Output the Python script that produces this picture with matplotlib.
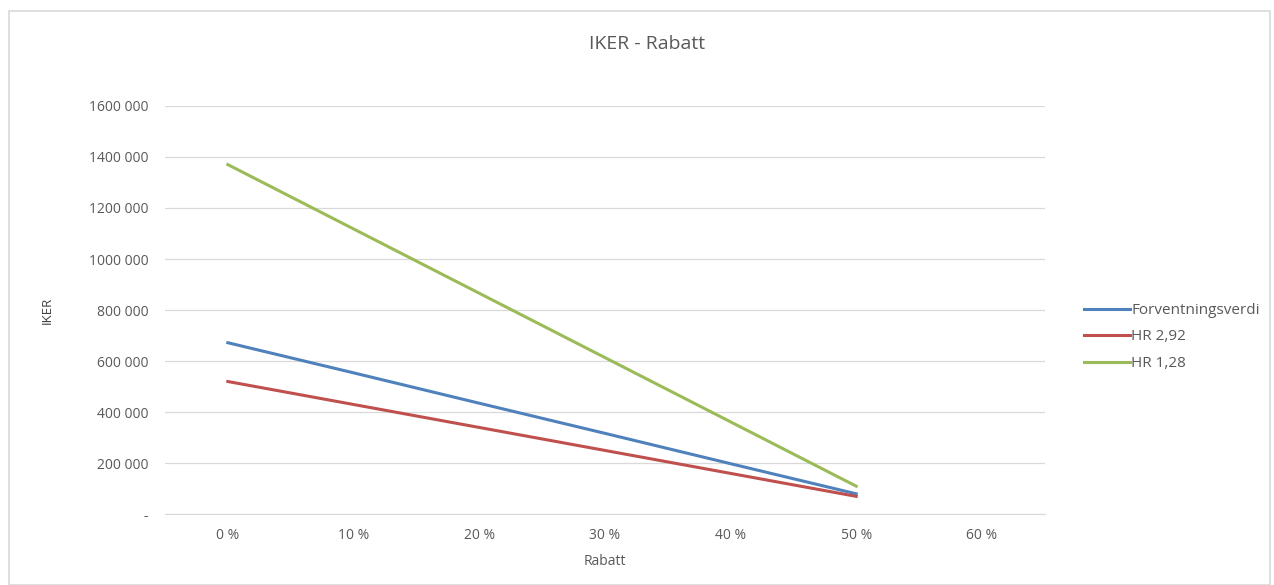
import numpy as np
import matplotlib.pyplot as plt
from matplotlib.patches import Rectangle

# rabatt-kategorier og IKER per serie
rabatt = ['0 %', '10 %', '20 %', '30 %', '40 %', '50 %', '60 %']
forventningsverdi = [672000, 554000, 435000, 317000, 198000, 80000]
hr_292 = [520000, 430000, 340000, 250000, 160000, 70000]
hr_128 = [1370000, 1118000, 866000, 614000, 362000, 110000]
yticks = [0, 200000, 400000, 600000, 800000, 1000000, 1200000, 1400000, 1600000]

plt.rcParams['font.family'] = ['Open Sans', 'DejaVu Sans']
grey = '#595959'

fig = plt.figure(figsize=(12.74, 5.85), dpi=100)
ax = fig.add_axes([0.1295, 0.121, 0.6905, 0.698])

x = np.arange(len(forventningsverdi))
ax.plot(x, forventningsverdi, color='#4F81BD', linewidth=2.2, label='Forventningsverdi')
ax.plot(x, hr_292, color='#C0504D', linewidth=2.2, label='HR 2,92')
ax.plot(x, hr_128, color='#9BBB59', linewidth=2.2, label='HR 1,28')

def fmt(v):
    if v == 0:
        return '-'
    s = str(int(v))
    return s[:-3] + ' ' + s[-3:]

ax.set_xlim(-0.5, len(rabatt) - 0.5)
ax.set_xticks(np.arange(len(rabatt)))
ax.set_xticklabels(rabatt)
ax.set_ylim(0, 1600000)
ax.set_yticks(yticks)
ax.set_yticklabels([fmt(v) for v in yticks])
ax.tick_params(length=0, colors=grey, labelsize=10, pad=12)
ax.tick_params(axis='x', pad=10)
ax.grid(axis='y', color='#D9D9D9', linewidth=0.9)
ax.set_axisbelow(True)
for side in ['top', 'right', 'left']:
    ax.spines[side].set_visible(False)
ax.spines['bottom'].set_color('#D9D9D9')

ax.set_xlabel('Rabatt', color=grey, fontsize=10, labelpad=8)
ax.set_ylabel('IKER', color='#404040', fontsize=9.5, labelpad=25)
fig.text(0.508, 0.925, 'IKER - Rabatt', ha='center', va='center',
         color=grey, fontsize=14)

fig.legend(loc='center left', bbox_to_anchor=(0.84, 0.424), frameon=False,
           fontsize=11, labelcolor=grey, handlelength=3.0, handletextpad=0.1,
           labelspacing=0.75)

# ramme rundt diagrammet
fig.add_artist(Rectangle((0.007, 0.0), 0.99, 0.982, transform=fig.transFigure,
                         fill=False, edgecolor='#D9D9D9', linewidth=1.2))

fig.savefig('out.png', dpi=100)
